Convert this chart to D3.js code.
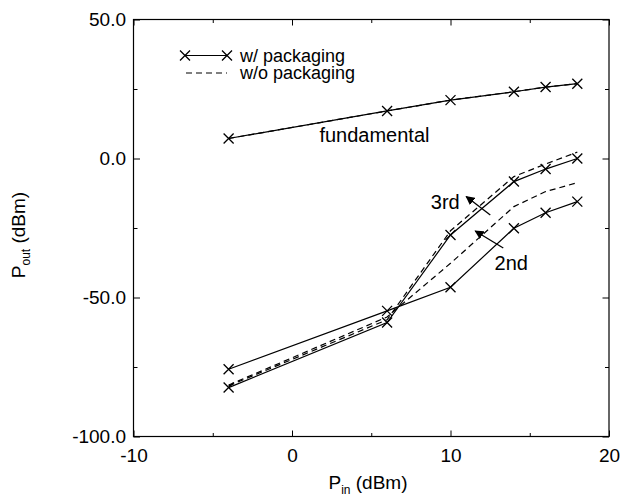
<!DOCTYPE html>
<html>
<meta charset="utf-8"/>
<head>
  <title>Pout vs Pin</title>
  <style>
    body { margin: 0; background: #fff; }
    text { font-family: "Liberation Sans", Arial, sans-serif; fill: #000; }
    .axis path { display: none; }
    .axis line { stroke: #000; stroke-width: 1; }
  </style>
</head>
<body>
<svg width="621" height="498"></svg>
<script src="https://d3js.org/d3.v7.min.js"></script>
<script>
// input power points (dBm)
var pin = [-4, 6, 10, 14, 16, 18];
// output power (dBm)
var fundWith      = [7.2, 17.1, 21.0, 24.0, 25.7, 26.9];
var fundWithout   = [7.2, 17.1, 21.0, 24.0, 25.7, 26.9];
var thirdWith     = [-82.4, -59.0, -27.5, -8.3, -3.8, 0.0];
var thirdWithout  = [-81.8, -58.0, -26.0, -6.5, -2.0, 2.3];
var secondWith    = [-75.8, -54.8, -46.3, -25.1, -19.5, -15.5];
var secondWithout = [-81.5, -57.0, -37.7, -17.3, -11.9, -8.7];

var xTicks = [-10, 0, 10, 20];
var xMinor = [-5, 5, 15];
var yTicks = [50, 0, -50, -100];
var yMinor = [25, -25, -75];

// annotations, in data units
var notes = [
  {text: "fundamental", x: 5.2, y: 8.4},
  {text: "3rd", x: 9.67, y: -15.7},
  {text: "2nd", x: 13.83, y: -37.6}
];
var arrows = [
  {x1: 12.51, y1: -20.3, x2: 10.99, y2: -13.7},
  {x1: 13.33, y1: -32.2, x2: 11.56, y2: -26.1}
];

var svg = d3.select("svg");
var pL = 133.5, pR = 609, pT = 19.5, pB = 436.5;

var x = d3.scaleLinear().domain([-10, 20]).range([pL, pR]);
var y = d3.scaleLinear().domain([-100, 50]).range([pB, pT]);

svg.append("defs").append("marker")
    .attr("id", "head")
    .attr("viewBox", "0 0 10 10")
    .attr("refX", 9).attr("refY", 5)
    .attr("markerWidth", 9).attr("markerHeight", 9)
    .attr("markerUnits", "userSpaceOnUse")
    .attr("orient", "auto")
  .append("path")
    .attr("d", "M0,0L10,5L0,10z")
    .attr("fill", "#000");

// frame
svg.append("rect")
    .attr("x", pL).attr("y", pT)
    .attr("width", pR - pL).attr("height", pB - pT)
    .attr("fill", "none").attr("stroke", "#000").attr("stroke-width", 1.2);

var fs = 19;

// bottom axis
var gx = svg.append("g").attr("class", "axis")
    .attr("transform", "translate(0," + pB + ")")
    .call(d3.axisBottom(x).tickValues(xTicks).tickSizeInner(-6).tickSizeOuter(0)
      .tickPadding(12).tickFormat(d => String(d)));
gx.selectAll("text").attr("font-size", fs).style("font-family", "Liberation Sans, Arial, sans-serif");
svg.append("g").attr("class", "axis")
    .attr("transform", "translate(0," + pB + ")")
    .call(d3.axisBottom(x).tickValues(xMinor).tickSizeInner(-3.5).tickSizeOuter(0).tickFormat(""));
// top ticks
svg.append("g").attr("class", "axis")
    .attr("transform", "translate(0," + pT + ")")
    .call(d3.axisTop(x).tickValues(xTicks).tickSizeInner(-6).tickSizeOuter(0).tickFormat(""));
svg.append("g").attr("class", "axis")
    .attr("transform", "translate(0," + pT + ")")
    .call(d3.axisTop(x).tickValues(xMinor).tickSizeInner(-3.5).tickSizeOuter(0).tickFormat(""));

// left axis
var gy = svg.append("g").attr("class", "axis")
    .attr("transform", "translate(" + pL + ",0)")
    .call(d3.axisLeft(y).tickValues(yTicks).tickSizeInner(-6.5).tickSizeOuter(0)
      .tickPadding(7.5).tickFormat(d => d.toFixed(1)));
gy.selectAll("text").attr("font-size", fs).style("font-family", "Liberation Sans, Arial, sans-serif");
svg.append("g").attr("class", "axis")
    .attr("transform", "translate(" + pL + ",0)")
    .call(d3.axisLeft(y).tickValues(yMinor).tickSizeInner(-4).tickSizeOuter(0).tickFormat(""));
// right ticks
svg.append("g").attr("class", "axis")
    .attr("transform", "translate(" + pR + ",0)")
    .call(d3.axisRight(y).tickValues(yTicks).tickSizeInner(-6.5).tickSizeOuter(0).tickFormat(""));
svg.append("g").attr("class", "axis")
    .attr("transform", "translate(" + pR + ",0)")
    .call(d3.axisRight(y).tickValues(yMinor).tickSizeInner(-4).tickSizeOuter(0).tickFormat(""));

// curves
var line = d3.line().x(d => x(d[0])).y(d => y(d[1]));
function pairs(vals) { return pin.map((p, i) => [p, vals[i]]); }

var dashed = [fundWithout, thirdWithout, secondWithout];
var solid = [fundWith, thirdWith, secondWith];

svg.append("g").selectAll("path")
  .data(dashed)
  .enter().append("path")
    .attr("d", d => line(pairs(d)))
    .attr("fill", "none").attr("stroke", "#000")
    .attr("stroke-width", 1.2).attr("stroke-dasharray", "6,4");

svg.append("g").selectAll("path")
  .data(solid)
  .enter().append("path")
    .attr("d", d => line(pairs(d)))
    .attr("fill", "none").attr("stroke", "#000").attr("stroke-width", 1.2);

var cross = "M-5,-5L5,5M-5,5L5,-5";
solid.forEach(function(vals) {
  svg.append("g").selectAll("path")
    .data(pairs(vals))
    .enter().append("path")
      .attr("d", cross)
      .attr("transform", d => "translate(" + x(d[0]) + "," + y(d[1]) + ")")
      .attr("fill", "none").attr("stroke", "#000").attr("stroke-width", 1.3);
});

// annotations
svg.append("g").selectAll("text")
  .data(notes)
  .enter().append("text")
    .attr("x", d => x(d.x)).attr("y", d => y(d.y))
    .attr("dy", "0.35em")
    .attr("text-anchor", "middle")
    .attr("font-size", 20)
    .text(d => d.text);

svg.append("g").selectAll("line")
  .data(arrows)
  .enter().append("line")
    .attr("x1", d => x(d.x1)).attr("y1", d => y(d.y1))
    .attr("x2", d => x(d.x2)).attr("y2", d => y(d.y2))
    .attr("stroke", "#000").attr("stroke-width", 1.3)
    .attr("marker-end", "url(#head)");

// legend
var lg = svg.append("g");
lg.append("line").attr("x1", 185).attr("x2", 227).attr("y1", 55.5).attr("y2", 55.5)
  .attr("stroke", "#000").attr("stroke-width", 1.2);
[185, 227].forEach(function(px) {
  lg.append("path").attr("d", cross).attr("transform", "translate(" + px + ",55.5)")
    .attr("stroke", "#000").attr("stroke-width", 1.3);
});
lg.append("text").attr("x", 240).attr("y", 55.5).attr("dy", "0.35em")
  .attr("font-size", 18).text("w/ packaging");
lg.append("line").attr("x1", 186).attr("x2", 227).attr("y1", 73).attr("y2", 73)
  .attr("stroke", "#000").attr("stroke-width", 1.2).attr("stroke-dasharray", "6,4");
lg.append("text").attr("x", 240).attr("y", 73).attr("dy", "0.35em")
  .attr("font-size", 18).text("w/o packaging");

// axis titles
var xt = svg.append("text").attr("x", 368).attr("y", 489)
  .attr("text-anchor", "middle").attr("font-size", fs);
xt.append("tspan").text("P");
xt.append("tspan").attr("font-size", 12).attr("dy", 5).text("in");
xt.append("tspan").attr("dy", -5).text(" (dBm)");

var yt = svg.append("text").attr("transform", "translate(25,235) rotate(-90)")
  .attr("text-anchor", "middle").attr("font-size", fs);
yt.append("tspan").text("P");
yt.append("tspan").attr("font-size", 12).attr("dy", 5).text("out");
yt.append("tspan").attr("dy", -5).text(" (dBm)");
</script>
</body>
</html>
